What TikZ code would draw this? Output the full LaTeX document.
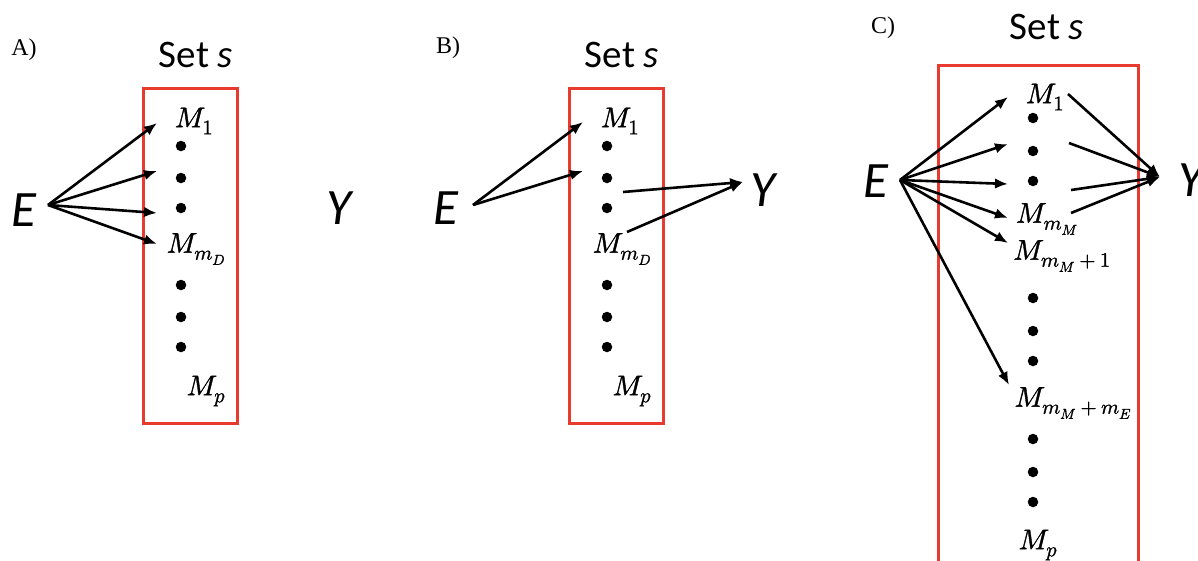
\documentclass[tikz,border=0pt]{standalone}
\usepackage{fontspec}
\usepackage{unicode-math}
\setmathfont{Latin Modern Math}[FakeBold=1.3]
\newfontfamily\calib{Carlito}
\newfontfamily\timesf{Liberation Serif}
\newcommand{\subsz}[1]{\hbox{\fontsize{20.5}{22}\selectfont$#1$}}
\usetikzlibrary{arrows.meta}
\definecolor{boxred}{RGB}{232,58,46}
\begin{document}
\begin{tikzpicture}[x=1pt,y=-1pt,
  panel/.style={font=\timesf\fontsize{24}{28}\selectfont, inner sep=0pt},
  settitle/.style={font=\calib\fontsize{39}{44}\selectfont, inner sep=0pt},
  bigvar/.style={font=\calib\itshape\fontsize{51}{56}\selectfont, inner sep=0pt},
  mlab/.style={font=\fontsize{28.5}{32}\selectfont, inner sep=0pt},
  dotm/.style={circle, fill=black, inner sep=0pt, minimum size=10.5pt},
  setbox/.style={draw=boxred, line width=3pt},
  arr/.style={-{Latex[length=13pt,width=10.5pt]}, line width=2.6pt}]
\useasboundingbox (0,0) rectangle (1198,560);
\fill[white] (0,0) rectangle (1198,560);

% ---------------- Panel A ----------------
\node[panel] (labA) at (24,50) {A)};
\node[settitle] (setA) at (196,55) {Set \textit{s}};
\draw[setbox] (143,88) rectangle (237,423);
\node[mlab] (A1) at (194,121) {$M_{\subsz{1}}$};
\node[mlab] (AmD) at (196,249) {$M_{\subsz{m_D}}$};
\node[mlab] (Ap) at (206,391) {$M_{\subsz{p}}$};
\foreach \n/\yy in {1/146,2/178,3/208,4/285,5/317,6/347}
  \node[dotm] (Ad\n) at (181,\yy) {};
\node[bigvar] (EA) at (24,210) {E};
\node[bigvar] (YA) at (339,208) {Y};
\coordinate (EAt) at (48,205);
\coordinate (AH1) at (157,123);
\coordinate (AH2) at (157,171);
\coordinate (AH3) at (157,213);
\coordinate (AH4) at (157,244);
\foreach \n in {1,...,4} \draw[arr] (EAt) -- (AH\n);

% ---------------- Panel B ----------------
\node[panel] (labB) at (448,48) {B)};
\node[settitle] (setB) at (622,55) {Set \textit{s}};
\draw[setbox] (569,88) rectangle (663,423);
\node[mlab] (B1) at (620,121) {$M_{\subsz{1}}$};
\node[mlab] (BmD) at (622,249) {$M_{\subsz{m_D}}$};
\node[mlab] (Bp) at (632,391) {$M_{\subsz{p}}$};
\foreach \n/\yy in {1/146,2/178,3/208,4/285,5/317,6/347}
  \node[dotm] (Bd\n) at (607,\yy) {};
\node[bigvar] (EB) at (446,208) {E};
\node[bigvar] (YB) at (763,190) {Y};
\coordinate (EBt) at (473,205);
\coordinate (BH1) at (583,122);
\coordinate (BH2) at (583,171);
\coordinate (BT1) at (623,192);
\coordinate (BT2) at (627,232);
\coordinate (YBt) at (743,182);
\draw[arr] (EBt) -- (BH1);
\draw[arr] (EBt) -- (BH2);
\draw[arr] (BT1) -- (YBt);
\draw[arr] (BT2) -- (YBt);

% ---------------- Panel C ----------------
\node[panel] (labC) at (883,28) {C)};
\node[settitle] (setC) at (1047,27) {Set \textit{s}};
\draw[setbox] (938,65) rectangle (1138,600);
\node[mlab] (C1) at (1045,97) {$M_{\subsz{1}}$};
\node[mlab] (CmM) at (1047,219) {$M_{\subsz{m_M}}$};
\node[mlab] (CmM1) at (1062,256) {$M_{\subsz{m_M+1}}$};
\node[mlab] (CmME) at (1073,403) {$M_{\subsz{m_M+m_E}}$};
\node[mlab] (Cp) at (1038,545) {$M_{\subsz{p}}$};
\foreach \n/\yy in {1/118,2/151,3/181,4/298,5/331,6/361,7/439,8/472,9/502}
  \node[dotm] (Cd\n) at (1033,\yy) {};
\node[bigvar] (EC) at (876,181) {E};
\node[bigvar] (YC) at (1191,180) {Y};
\coordinate (ECt) at (900,180);
\coordinate (CH1) at (1008,97);
\coordinate (CH2) at (1008,144);
\coordinate (CH3) at (1008,184);
\coordinate (CH4) at (1008,218);
\coordinate (CH5) at (1008,243);
\coordinate (CH6) at (1009,385);
\foreach \n in {1,...,6} \draw[arr] (ECt) -- (CH\n);
\coordinate (CT1) at (1068,94);
\coordinate (CT2) at (1069,143);
\coordinate (CT3) at (1071,190);
\coordinate (CT4) at (1071,213);
\coordinate (YCt) at (1160,177);
\foreach \n in {1,...,4} \draw[arr] (CT\n) -- (YCt);
\end{tikzpicture}
\end{document}
